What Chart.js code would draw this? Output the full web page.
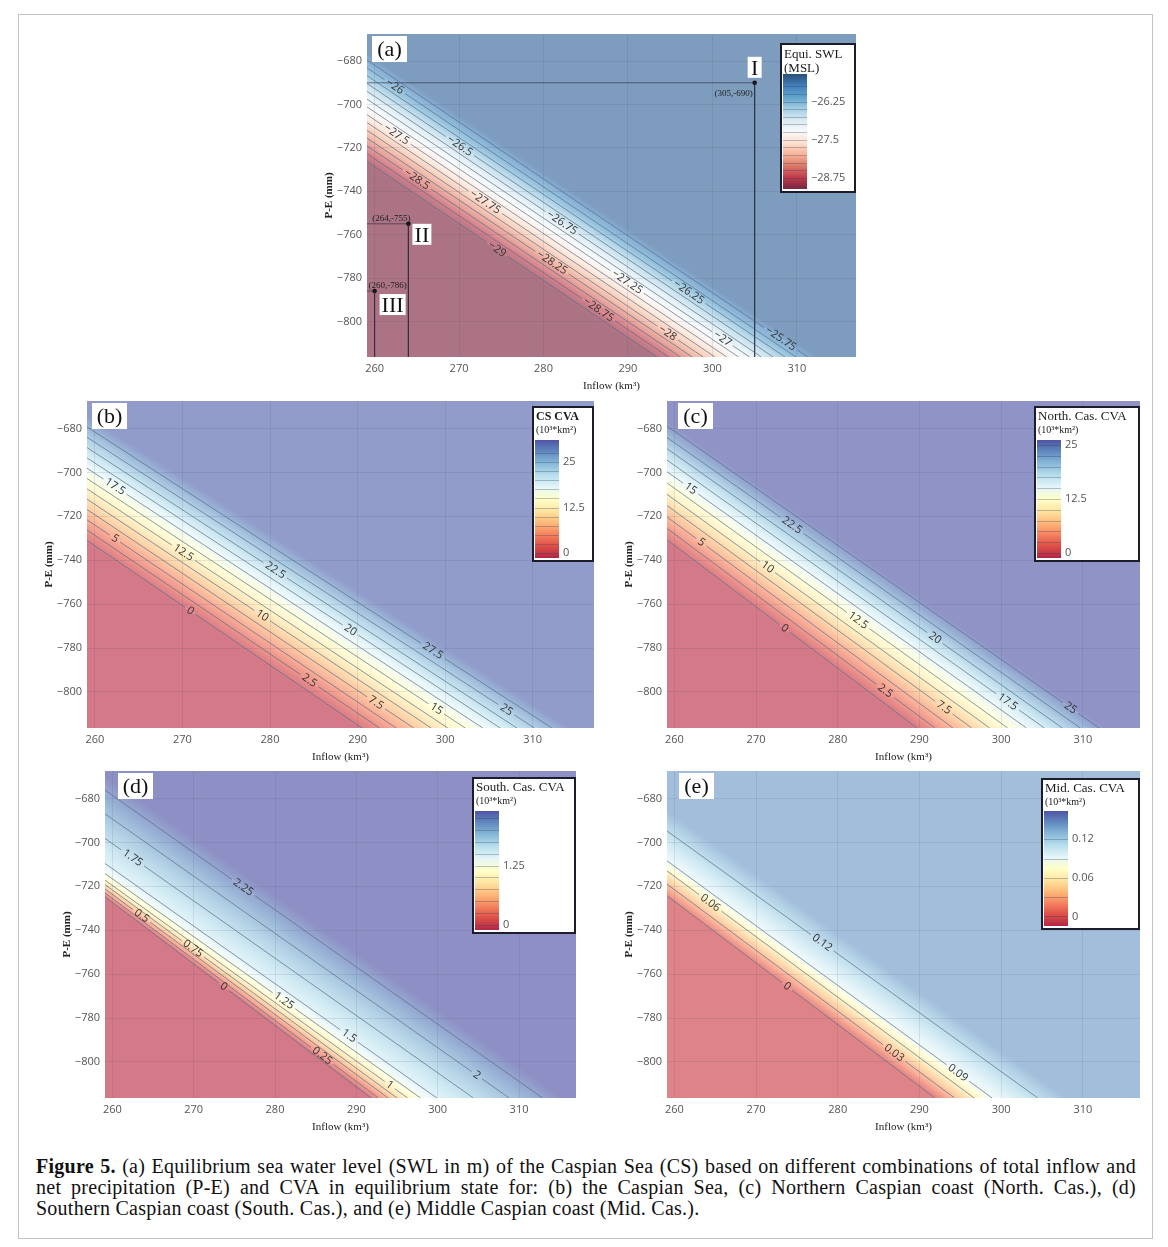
<!DOCTYPE html>
<html>
<head>
<meta charset="utf-8">
<script src="https://cdn.jsdelivr.net/npm/chart.js@4/dist/chart.umd.min.js"></script>
<style>
  body { margin: 0; background: #fff; width: 1168px; height: 1247px; position: relative; overflow: hidden; }
  #frame { position: absolute; left: 18px; top: 14px; width: 1133px; height: 1223px; border: 1px solid #c4c4c4; }
  canvas { position: absolute; }
  #caption { position: absolute; left: 36px; top: 1156px; width: 1100px; font: 20px "Liberation Serif", serif; letter-spacing: 0.25px; line-height: 21px; color: #111; }
  #caption div { white-space: nowrap; }
  #caption .just { text-align: justify; text-align-last: justify; white-space: normal; }
</style>
</head>
<body>
<div id="frame"></div>
<div id="caption">
  <div class="just"><b>Figure 5.</b> (a) Equilibrium sea water level (SWL in m) of the Caspian Sea (CS) based on different combinations of total inflow and</div>
  <div class="just">net precipitation (P-E) and CVA in equilibrium state for: (b) the Caspian Sea, (c) Northern Caspian coast (North. Cas.), (d)</div>
  <div>Southern Caspian coast (South. Cas.), and (e) Middle Caspian coast (Mid. Cas.).</div>
</div>
<script>
// shared axes
const inflowTicks = [260, 270, 280, 290, 300, 310];
const peTicks = [-800, -780, -760, -740, -720, -700, -680];
const X_MIN = 259.1, X_MAX = 317, Y_MIN = -816.4, Y_MAX = -667.5;

// (a) equilibrium SWL: contour level, P-E where it meets the left edge, inflow where it meets the bottom, label position
const swlLevels = [-29, -28.75, -28.5, -28.25, -28, -27.75, -27.5, -27.25, -27, -26.75, -26.5, -26.25, -26, -25.75];
const swlLeftPE = [-726.3, -722.7, -719.1, -715.5, -711.9, -708.3, -704.7, -701.1, -697.5, -693.9, -690.3, -686.7, -683.1, -679.5];
const swlBottomInflow = [293.4, 294.8, 296.2, 297.6, 298.9, 300.3, 301.7, 303.1, 304.4, 305.8, 307.2, 308.6, 309.9, 311.3];
const swlLabelInflow = [274.5, 286.5, 265.0, 281.0, 294.7, 273.1, 262.6, 289.9, 301.2, 282.2, 270.1, 297.2, 262.4, 308.1];
const swlBarTicks = [-28.75, -27.5, -26.25];
const swlBarRange = [-29.11, -25.35];
const swlFieldRange = [-29.1, -25.55];
const refInflow = [305, 264, 260];
const refPE = [-690, -755, -786];
const refNames = ['I', 'II', 'III'];

// (b) CS CVA
const csLevels = [0, 2.5, 5, 7.5, 10, 12.5, 15, 17.5, 20, 22.5, 25, 27.5];
const csLeftPE = [-731.0, -726.3, -721.6, -716.9, -712.2, -707.5, -702.8, -698.1, -693.4, -688.7, -684.0, -679.3];
const csBottomInflow = [290.5, 292.5, 294.4, 296.4, 298.4, 300.3, 302.3, 304.3, 306.3, 308.2, 310.2, 312.2];
const csLabelInflow = [270.9, 284.5, 262.3, 292.1, 279.1, 270.1, 299.0, 262.3, 289.2, 280.6, 307.0, 298.6];
const csBarTicks = [0, 12.5, 25];
const csBarRange = [-1.4, 31.1];
const csFieldRange = [-0.6, 30];

// (c) North. Cas. CVA
const northLevels = [0, 2.5, 5, 7.5, 10, 12.5, 15, 17.5, 20, 22.5, 25];
const northLeftPE = [-730.7, -725.5, -720.3, -715.1, -710.0, -704.8, -699.7, -694.4, -689.2, -684.1, -678.9];
const northBottomInflow = [289.7, 291.9, 294.1, 296.4, 298.6, 300.8, 303.1, 305.3, 307.5, 309.7, 312.0];
const northLabelInflow = [273.5, 285.8, 263.3, 293.0, 271.4, 282.5, 262.0, 300.8, 291.9, 274.4, 308.5];
const northBarTicks = [0, 12.5, 25];
const northBarRange = [-1.2, 26.2];
const northFieldRange = [-0.6, 26.0];

// (d) South. Cas. CVA
const southLevels = [0, 0.25, 0.5, 0.75, 1, 1.25, 1.5, 1.75, 2, 2.25];
const southLeftPE = [-724.8, -723.0, -721.2, -719.2, -717.2, -714.2, -709.6, -698.2, -687.0, -676.2];
const southBottomInflow = [291.8, 292.7, 293.9, 295.0, 296.3, 297.9, 299.9, 304.4, 308.8, 312.9];
const southLabelInflow = [273.7, 285.8, 263.6, 269.9, 294.1, 281.1, 289.1, 262.5, 304.8, 276.1];
const southBarTicks = [0, 1.25];
const southBarRange = [-0.11, 2.4];
const southFieldRange = [-0.05, 2.4];

// (e) Mid. Cas. CVA
const midLevels = [0, 0.03, 0.06, 0.09, 0.12];
const midLeftPE = [-724.3, -719.0, -713.0, -708.4, -694.8];
const midBottomInflow = [291.9, 294.3, 296.7, 298.9, 304.5];
const midLabelInflow = [273.8, 286.9, 264.4, 294.7, 278.1];
const midBarTicks = [0, 0.06, 0.12];
const midBarRange = [-0.015, 0.164];
const midFieldRange = [-0.004, 0.14];

// colour scales, low -> high
const RDBU = ['#67001f', '#b2182b', '#d6604d', '#f4a582', '#fddbc7', '#f7f7f7', '#d1e5f0', '#92c5de', '#4393c3', '#2166ac', '#053061'];
const RDYLBU = ['#a50026', '#d73027', '#f46d43', '#fdae61', '#fee090', '#ffffbf', '#e0f3f8', '#abd9e9', '#74add1', '#4575b4', '#313695'];
const FIELD_ALPHA = 0.55, BAR_ALPHA = 0.85;
const LINE_COLOUR = 'rgba(55, 85, 115, 0.6)';
const LABEL_FONT = '11px "Open Sans"';
const TICK_FONT = '11px "Open Sans"';
const AXIS_W = 48, AXIS_H = 40;

const panels = [
  { tag: '(a)', tagX: 5, plot: { l: 367, t: 30, w: 492, h: 327 }, scale: RDBU,
    levels: swlLevels, left: swlLeftPE, bottom: swlBottomInflow, labels: swlLabelInflow,
    barTicks: swlBarTicks, range: swlBarRange, field: swlFieldRange,
    title: ['Equi. SWL', '(MSL)'], titleFont: '13px "Liberation Serif"', unitFont: '13px "Liberation Serif"',
    lg: { w: 74, top: 10, h: 148, bar: 30, b1: 14, b2: 28 }, refs: true },
  { tag: '(b)', tagX: 5, plot: { l: 87, t: 401, w: 507, h: 327 }, scale: RDYLBU,
    levels: csLevels, left: csLeftPE, bottom: csBottomInflow, labels: csLabelInflow,
    barTicks: csBarTicks, range: csBarRange, field: csFieldRange,
    title: ['CS CVA', '(10³*km²)'], titleFont: 'bold 12px "Liberation Serif"', unitFont: '10px "Liberation Serif"',
    lg: { w: 60, top: 6, h: 154, bar: 33, b1: 13, b2: 26 } },
  { tag: '(c)', tagX: 11, plot: { l: 667, t: 401, w: 473, h: 327 }, scale: RDYLBU,
    levels: northLevels, left: northLeftPE, bottom: northBottomInflow, labels: northLabelInflow,
    barTicks: northBarTicks, range: northBarRange, field: northFieldRange,
    title: ['North. Cas. CVA', '(10³*km²)'], titleFont: '13px "Liberation Serif"', unitFont: '10px "Liberation Serif"',
    lg: { w: 104, top: 6, h: 154, bar: 33, b1: 13, b2: 26 } },
  { tag: '(d)', tagX: 13, plot: { l: 105, t: 771, w: 471, h: 327 }, scale: RDYLBU,
    levels: southLevels, left: southLeftPE, bottom: southBottomInflow, labels: southLabelInflow,
    barTicks: southBarTicks, range: southBarRange, field: southFieldRange,
    title: ['South. Cas. CVA', '(10³*km²)'], titleFont: '13px "Liberation Serif"', unitFont: '10px "Liberation Serif"',
    lg: { w: 102, top: 7, h: 155, bar: 33, b1: 13, b2: 26 } },
  { tag: '(e)', tagX: 12, plot: { l: 667, t: 771, w: 473, h: 327 }, scale: RDYLBU,
    levels: midLevels, left: midLeftPE, bottom: midBottomInflow, labels: midLabelInflow,
    barTicks: midBarTicks, range: midBarRange, field: midFieldRange,
    title: ['Mid. Cas. CVA', '(10³*km²)'], titleFont: '13px "Liberation Serif"', unitFont: '10px "Liberation Serif"',
    lg: { w: 97, top: 8, h: 150, bar: 32, b1: 13, b2: 26 } }
];

function fmt(v) { return (v < 0 ? '\u2212' : '') + Math.abs(v); }

function hexRgb(h) { return [1, 3, 5].map(i => parseInt(h.substr(i, 2), 16)); }

// colour of t in [0,1], washed over white by alpha
function scaleColour(stops, t, alpha) {
  t = Math.min(1, Math.max(0, t));
  const f = t * (stops.length - 1);
  const i = Math.min(Math.floor(f), stops.length - 2), r = f - i;
  const a = hexRgb(stops[i]), b = hexRgb(stops[i + 1]);
  return 'rgb(' + a.map((v, k) => Math.round(255 - alpha * (255 - (v + (b[k] - v) * r)))).join(',') + ')';
}

const measure = document.createElement('canvas').getContext('2d');
measure.font = LABEL_FONT;

// contour lines as datasets, broken where the label sits
function contourSets(p) {
  const pxX = p.plot.w / (X_MAX - X_MIN), pxY = p.plot.h / (Y_MAX - Y_MIN);
  return p.levels.map((lv, i) => {
    const x0 = X_MIN, y0 = p.left[i], x1 = p.bottom[i], y1 = Y_MIN;
    const len = Math.hypot((x1 - x0) * pxX, (y1 - y0) * pxY);
    const t = (p.labels[i] - x0) / (x1 - x0);
    const half = (measure.measureText(fmt(lv)).width / 2 + 3) / len;
    const at = s => ({ x: x0 + (x1 - x0) * s, y: y0 + (y1 - y0) * s });
    return {
      data: [at(0), at(t - half), at(t + half), at(1)],
      showLine: true, borderColor: LINE_COLOUR, borderWidth: 1, pointRadius: 0,
      segment: { borderColor: c => c.p0DataIndex === 1 ? 'rgba(0,0,0,0)' : undefined }
    };
  });
}

function refSets() {
  const sets = refInflow.map((x, i) => ({
    data: [{ x: X_MIN, y: refPE[i] }, { x: x, y: refPE[i] }, { x: x, y: Y_MIN }],
    showLine: true, borderColor: 'rgba(40, 40, 60, 0.6)', borderWidth: 1, pointRadius: 0
  }));
  sets.push({
    data: refInflow.map((x, i) => ({ x: x, y: refPE[i] })),
    showLine: false, pointRadius: 2.3, pointBackgroundColor: '#111', pointBorderWidth: 0
  });
  return sets;
}

const panelOf = new Map();

// smooth colour field between the contour lines
const fieldPlugin = {
  id: 'field',
  beforeDraw(chart) {
    const p = panelOf.get(chart.canvas);
    const { ctx, chartArea: ca, scales: { x, y } } = chart;
    const col = v => scaleColour(p.scale, (v - p.range[0]) / (p.range[1] - p.range[0]), FIELD_ALPHA);
    const ln = p.levels.map((lv, i) => {
      const a = { x: x.getPixelForValue(X_MIN), y: y.getPixelForValue(p.left[i]) };
      const b = { x: x.getPixelForValue(p.bottom[i]), y: y.getPixelForValue(Y_MIN) };
      const len = Math.hypot(b.x - a.x, b.y - a.y);
      return { lv, a, b, n: { x: -(b.y - a.y) / len, y: (b.x - a.x) / len }, m: { x: (a.x + b.x) / 2, y: (a.y + b.y) / 2 } };
    });
    const fill = (poly, s, e, v0, v1) => {
      const g = ctx.createLinearGradient(s.x, s.y, e.x, e.y);
      for (let k = 0; k <= 8; k++) g.addColorStop(k / 8, col(v0 + (v1 - v0) * k / 8));
      ctx.fillStyle = g;
      ctx.beginPath();
      poly.forEach((q, j) => j ? ctx.lineTo(q.x, q.y) : ctx.moveTo(q.x, q.y));
      ctx.closePath();
      ctx.fill();
    };
    const foot = (s, L) => {
      const d = (L.a.x - s.x) * L.n.x + (L.a.y - s.y) * L.n.y;
      return { x: s.x + L.n.x * d, y: s.y + L.n.y * d };
    };
    const away = (L, ref, frac) => {
      const d = (L.m.x - ref.m.x) * L.n.x + (L.m.y - ref.m.y) * L.n.y;
      return { x: L.m.x + L.n.x * d * frac, y: L.m.y + L.n.y * d * frac };
    };
    const n = ln.length, lo = ln[0], hi = ln[n - 1];
    ctx.save();
    ctx.beginPath();
    ctx.rect(ca.left, ca.top, ca.width, ca.height);
    ctx.clip();
    fill([lo.a, lo.b, { x: ca.left, y: ca.bottom }], lo.m,
      away(lo, ln[1], (lo.lv - p.field[0]) / (ln[1].lv - lo.lv)), lo.lv, p.field[0]);
    for (let i = 0; i < n - 1; i++) {
      const A = ln[i], B = ln[i + 1];
      fill([A.a, A.b, B.b, B.a], A.m, foot(A.m, B), A.lv, B.lv);
    }
    fill([hi.a, { x: ca.left, y: ca.top - 1 }, { x: ca.right + 1, y: ca.top - 1 }, { x: ca.right + 1, y: ca.bottom }, hi.b], hi.m,
      away(hi, ln[n - 2], (p.field[1] - hi.lv) / (hi.lv - ln[n - 2].lv)), hi.lv, p.field[1]);
    ctx.restore();
  }
};

// contour labels, reference points, panel tag and colour bar
const overlayPlugin = {
  id: 'overlay',
  afterDraw(chart) {
    const p = panelOf.get(chart.canvas);
    const { ctx, chartArea: ca, scales: { x, y } } = chart;
    ctx.save();
    ctx.font = LABEL_FONT;
    ctx.fillStyle = '#333';
    ctx.textAlign = 'center';
    ctx.textBaseline = 'middle';
    p.levels.forEach((lv, i) => {
      const x0 = X_MIN, y0 = p.left[i], x1 = p.bottom[i], y1 = Y_MIN;
      const t = (p.labels[i] - x0) / (x1 - x0);
      const cx = x.getPixelForValue(x0 + (x1 - x0) * t), cy = y.getPixelForValue(y0 + (y1 - y0) * t);
      const ang = Math.atan2(y.getPixelForValue(y1) - y.getPixelForValue(y0), x.getPixelForValue(x1) - x.getPixelForValue(x0));
      ctx.save();
      ctx.translate(cx, cy);
      ctx.rotate(ang);
      ctx.fillText(fmt(lv), 0, 0);
      ctx.restore();
    });

    if (p.refs) {
      const boxes = [{ dx: -7, dy: -26, w: 14 }, { dx: 4, dy: 0, w: 19 }, { dx: 5, dy: 3, w: 26 }];
      const coords = [{ dx: -2, dy: 13, al: 'right' }, { dx: 2, dy: -3, al: 'right' }, { dx: -6, dy: -3, al: 'left' }];
      refInflow.forEach((v, i) => {
        const px = x.getPixelForValue(v), py = y.getPixelForValue(refPE[i]);
        const b = boxes[i], c = coords[i];
        ctx.fillStyle = '#fff';
        ctx.fillRect(px + b.dx, py + b.dy, b.w, 21);
        ctx.fillStyle = '#111';
        ctx.font = '22px "Liberation Serif"';
        ctx.textAlign = 'center';
        ctx.textBaseline = 'alphabetic';
        ctx.fillText(refNames[i], px + b.dx + b.w / 2, py + b.dy + 18);
        ctx.font = '9px "Liberation Serif"';
        ctx.textAlign = c.al;
        ctx.fillStyle = '#222';
        ctx.fillText('(' + v + ',' + refPE[i] + ')', px + c.dx, py + c.dy);
      });
    }

    // panel tag
    ctx.fillStyle = '#fff';
    ctx.fillRect(ca.left + p.tagX, ca.top + 2, 35, 26);
    ctx.fillStyle = '#111';
    ctx.font = '22px "Liberation Serif"';
    ctx.textAlign = 'center';
    ctx.textBaseline = 'alphabetic';
    ctx.fillText(p.tag, ca.left + p.tagX + 17.5, ca.top + 22);

    // colour bar
    const lg = p.lg;
    const bx = ca.right - 1 - lg.w, by = ca.top + lg.top;
    ctx.fillStyle = '#fff';
    ctx.fillRect(bx, by, lg.w, lg.h);
    ctx.strokeStyle = '#1c1c2a';
    ctx.lineWidth = 2;
    ctx.strokeRect(bx, by, lg.w, lg.h);
    ctx.fillStyle = '#1a1a1a';
    ctx.textAlign = 'left';
    ctx.font = p.titleFont;
    ctx.fillText(p.title[0], bx + 3, by + lg.b1);
    ctx.font = p.unitFont;
    ctx.fillText(p.title[1], bx + 3, by + lg.b2);
    const barX = bx + 2, barW = 24, barT = by + lg.bar, barB = by + lg.h - 3;
    const g = ctx.createLinearGradient(0, barB, 0, barT);
    for (let k = 0; k <= 20; k++) g.addColorStop(k / 20, scaleColour(p.scale, k / 20, BAR_ALPHA));
    ctx.fillStyle = g;
    ctx.fillRect(barX, barT, barW, barB - barT);
    const vy = v => barB - (v - p.range[0]) / (p.range[1] - p.range[0]) * (barB - barT);
    ctx.strokeStyle = 'rgba(40, 60, 90, 0.3)';
    ctx.lineWidth = 1;
    p.levels.forEach(lv => {
      ctx.beginPath();
      ctx.moveTo(barX, Math.round(vy(lv)) + 0.5);
      ctx.lineTo(barX + barW, Math.round(vy(lv)) + 0.5);
      ctx.stroke();
    });
    ctx.font = TICK_FONT;
    ctx.fillStyle = '#555';
    ctx.textBaseline = 'middle';
    p.barTicks.forEach(v => ctx.fillText(fmt(v), barX + barW + 4, vy(v)));
    ctx.restore();
  }
};

panels.forEach(p => {
  const cv = document.createElement('canvas');
  cv.width = AXIS_W + p.plot.w + 1;
  cv.height = p.plot.h + AXIS_H;
  cv.style.left = (p.plot.l - AXIS_W) + 'px';
  cv.style.top = p.plot.t + 'px';
  document.body.appendChild(cv);
  panelOf.set(cv, p);
  const sets = contourSets(p);
  if (p.refs) sets.push(...refSets());
  const grid = { color: 'rgba(60, 70, 100, 0.12)', drawTicks: false };
  new Chart(cv, {
    type: 'scatter',
    data: { datasets: sets },
    options: {
      responsive: false,
      animation: false,
      layout: { padding: { top: 0, right: 1, bottom: 0, left: 0 } },
      plugins: { legend: { display: false }, tooltip: { enabled: false } },
      scales: {
        x: {
          type: 'linear', min: X_MIN, max: X_MAX,
          afterBuildTicks: s => { s.ticks = inflowTicks.map(v => ({ value: v })); },
          afterFit: s => { s.height = AXIS_H; s.paddingLeft = 0; s.paddingRight = 0; },
          ticks: { color: '#555', font: { family: 'Open Sans', size: 11 }, padding: 5, maxRotation: 0, callback: v => fmt(v) },
          grid: grid, border: { display: false },
          title: { display: true, text: 'Inflow (km³)', color: '#222', font: { family: 'Liberation Serif', size: 11 }, padding: { top: 0, bottom: 4 } }
        },
        y: {
          type: 'linear', min: Y_MIN, max: Y_MAX,
          afterBuildTicks: s => { s.ticks = peTicks.map(v => ({ value: v })); },
          afterFit: s => { s.width = AXIS_W; s.paddingTop = 0; s.paddingBottom = 0; },
          ticks: { color: '#555', font: { family: 'Open Sans', size: 11 }, padding: 5, callback: v => fmt(v) },
          grid: grid, border: { display: false },
          title: { display: true, text: 'P-E (mm)', color: '#222', font: { family: 'Liberation Serif', size: 11, weight: 'bold' }, padding: { top: 4, bottom: 0 } }
        }
      }
    },
    plugins: [fieldPlugin, overlayPlugin]
  });
});
</script>
</body>
</html>
